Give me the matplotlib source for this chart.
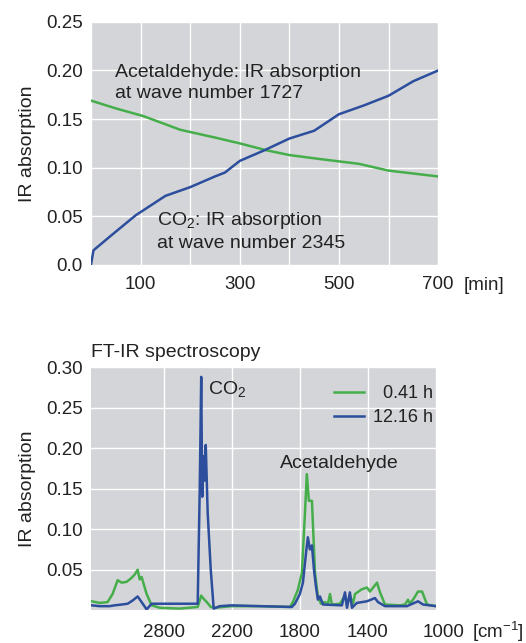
import numpy as np
import matplotlib
matplotlib.use("Agg")
import matplotlib.pyplot as plt
import matplotlib.transforms as mtransforms

plt.rcParams['font.family'] = ['Liberation Sans', 'DejaVu Sans']
plt.rcParams['mathtext.fontset'] = 'custom'
plt.rcParams['mathtext.rm'] = 'Liberation Sans'
plt.rcParams['mathtext.it'] = 'Liberation Sans'

# -------------------------
# DATA: absorption over time
# -------------------------
time_min = [0, 5, 40, 90, 150, 200, 250, 270, 300, 350, 400, 450, 500, 550, 600, 650, 700]
co2_abs = [0.0, 0.015, 0.030, 0.051, 0.071, 0.080, 0.091, 0.095, 0.107, 0.118,
           0.130, 0.138, 0.155, 0.164, 0.174, 0.189, 0.200]

time_acet = [0, 50, 106, 180, 250, 300, 353, 400, 460, 540, 600, 650, 700]
acet_abs = [0.169, 0.161, 0.153, 0.139, 0.131, 0.125, 0.118, 0.113, 0.109, 0.104,
            0.097, 0.094, 0.091]

# -------------------------
# DATA: FT-IR spectra
# -------------------------
wn_early = [3434, 3364, 3294, 3250, 3205, 3170, 3126, 3082, 3055, 3029, 3011, 2994,
            2950, 2906, 2835, 2659, 2500, 2482, 2469, 2447, 2420, 2385, 2350, 2200,
            2035, 1858, 1841, 1812, 1788, 1770, 1759, 1747, 1729, 1711, 1694, 1676,
            1653, 1635, 1623, 1612, 1564, 1535, 1523, 1506, 1488, 1476, 1435, 1406,
            1388, 1347, 1329, 1300, 1212, 1182, 1165, 1153, 1129, 1106, 1082, 1053, 1000]
abs_early = [0.011, 0.009, 0.010, 0.020, 0.037, 0.034, 0.035, 0.040, 0.044, 0.050, 0.038, 0.041,
             0.020, 0.006, 0.003, 0.002, 0.004, 0.012, 0.018, 0.014, 0.010, 0.004, 0.003, 0.005,
             0.005, 0.004, 0.010, 0.025, 0.046, 0.120, 0.168, 0.135, 0.135, 0.046, 0.017, 0.008,
             0.010, 0.008, 0.020, 0.007, 0.008, 0.018, 0.006, 0.018, 0.008, 0.020, 0.026, 0.028,
             0.023, 0.034, 0.022, 0.007, 0.006, 0.007, 0.013, 0.008, 0.015, 0.023, 0.023, 0.007, 0.005]

wn_late = [3434, 3364, 3276, 3232, 3170, 3117, 3073, 3029, 2994, 2950, 2906, 2500,
           2482, 2469, 2460, 2447, 2438, 2429, 2412, 2385, 2359, 2306, 2200, 2035,
           1847, 1829, 1800, 1782, 1764, 1753, 1741, 1729, 1717, 1706, 1694, 1682,
           1664, 1553, 1535, 1523, 1506, 1494, 1465, 1406, 1359, 1341, 1300, 1171,
           1106, 1076, 1000]
abs_late = [0.006, 0.005, 0.005, 0.006, 0.007, 0.008, 0.012, 0.017, 0.010, 0.001, 0.008, 0.008,
            0.150, 0.288, 0.140, 0.190, 0.160, 0.204, 0.120, 0.050, 0.002, 0.005, 0.006, 0.005,
            0.004, 0.008, 0.020, 0.034, 0.070, 0.090, 0.075, 0.080, 0.050, 0.030, 0.013, 0.017,
            0.007, 0.006, 0.022, 0.003, 0.022, 0.003, 0.009, 0.011, 0.015, 0.010, 0.005, 0.005,
            0.011, 0.007, 0.005]

spectrum_labels = ["0.41 h", "12.16 h"]
ir_ticks = [2800, 2200, 1800, 1400, 1000]

GREEN = '#45ae4b'
BLUE = '#2c4e9d'
BG = '#d4d5d8'
TXT = '#222222'
FS_TICK = 13.5
FS_TXT = 14


def style_axes(ax):
    ax.set_facecolor(BG)
    for s in ax.spines.values():
        s.set_visible(False)
    ax.grid(True, color='white', linewidth=1.0)
    ax.set_axisbelow(True)
    ax.tick_params(length=0, labelsize=FS_TICK, colors=TXT)


# break in wavenumber scale above 2200
def fwd(w):
    w = np.asarray(w, dtype=float)
    return np.where(w > 2200, 2200 + (w - 2200) / 1.5, w)


def inv(v):
    v = np.asarray(v, dtype=float)
    return np.where(v > 2200, 2200 + (v - 2200) * 1.5, v)


fig = plt.figure(figsize=(5.26, 6.43), dpi=100)

# -------------------------
# TOP: time course
# -------------------------
ax1 = fig.add_axes([0.173, 0.588, 0.660, 0.378])
style_axes(ax1)
ax1.plot(time_acet, acet_abs, color=GREEN, linewidth=1.8)
ax1.plot(time_min, co2_abs, color=BLUE, linewidth=1.8)
ax1.set_xlim(0, 700)
ax1.set_ylim(0, 0.25)
xt = np.arange(0, 701, 100)
ax1.set_xticks(xt)
ax1.set_xticklabels([str(v) if v % 200 == 100 else "" for v in xt])
ax1.set_yticks([0, 0.05, 0.10, 0.15, 0.20, 0.25])
ax1.set_yticklabels(["0.0", "0.05", "0.10", "0.15", "0.20", "0.25"])
ax1.tick_params(axis='x', pad=8)
ax1.tick_params(axis='y', pad=6)
ax1.set_ylabel("IR absorption", fontsize=FS_TXT, color=TXT, labelpad=7)
ax1.annotate("[min]", xy=(700, 0), xycoords=ax1.get_xaxis_transform(),
             xytext=(18, -8 - 0.72 * FS_TICK), textcoords='offset points',
             ha='left', va='baseline', fontsize=FS_TICK, color=TXT)
ax1.text(48, 0.207, "Acetaldehyde: IR absorption\nat wave number 1727",
         ha='left', va='top', fontsize=FS_TXT, color=TXT, linespacing=1.32)
ax1.text(133, 0.056, "CO$_2$: IR absorption\nat wave number 2345",
         ha='left', va='top', fontsize=FS_TXT, color=TXT, linespacing=1.25)

# -------------------------
# BOTTOM: FT-IR spectra
# -------------------------
ax2 = fig.add_axes([0.173, 0.051, 0.656, 0.378])
style_axes(ax2)
ax2.set_xscale('function', functions=(fwd, inv))
ax2.plot(wn_early, abs_early, color=GREEN, linewidth=1.8,
         label=spectrum_labels[0].rjust(7, '\u2007'))
ax2.plot(wn_late, abs_late, color=BLUE, linewidth=1.8,
         label=spectrum_labels[1].rjust(7, '\u2007'))
ax2.set_xlim(3440, 1000)
ax2.set_ylim(0, 0.30)
ax2.set_xticks(ir_ticks)
ax2.set_xticklabels([str(v) for v in ir_ticks])
ax2.set_yticks([0.05, 0.10, 0.15, 0.20, 0.25, 0.30])
ax2.set_yticklabels(["0.05", "0.10", "0.15", "0.20", "0.25", "0.30"])
ax2.tick_params(axis='x', pad=10)
ax2.tick_params(axis='y', pad=6)
shift = mtransforms.ScaledTranslation(8 / 100, 0, fig.dpi_scale_trans)
last = ax2.get_xticklabels()[-1]
last.set_transform(last.get_transform() + shift)
ax2.set_ylabel("IR absorption", fontsize=FS_TXT, color=TXT, labelpad=7)
ax2.annotate("[cm$^{-1}$]", xy=(1000, 0), xycoords=ax2.get_xaxis_transform(),
             xytext=(26, -10 - 0.72 * FS_TICK), textcoords='offset points',
             ha='left', va='baseline', fontsize=FS_TICK, color=TXT)
ax2.set_title("FT-IR spectroscopy", loc='left', fontsize=FS_TXT, color=TXT, pad=7)
ax2.text(0.339, 0.91, "CO$_2$", transform=ax2.transAxes, ha='left', va='center',
         fontsize=FS_TXT, color=TXT)
ax2.text(0.548, 0.605, "Acetaldehyde", transform=ax2.transAxes, ha='left', va='center',
         fontsize=FS_TXT, color=TXT)
leg = ax2.legend(loc='upper right', bbox_to_anchor=(0.99, 0.925), frameon=False,
                 fontsize=13, handlelength=1.65, handletextpad=0.5, labelspacing=0.38,
                 borderaxespad=0, borderpad=0)
for t in leg.get_texts():
    t.set_color(TXT)

fig.savefig("out.png", dpi=100)
